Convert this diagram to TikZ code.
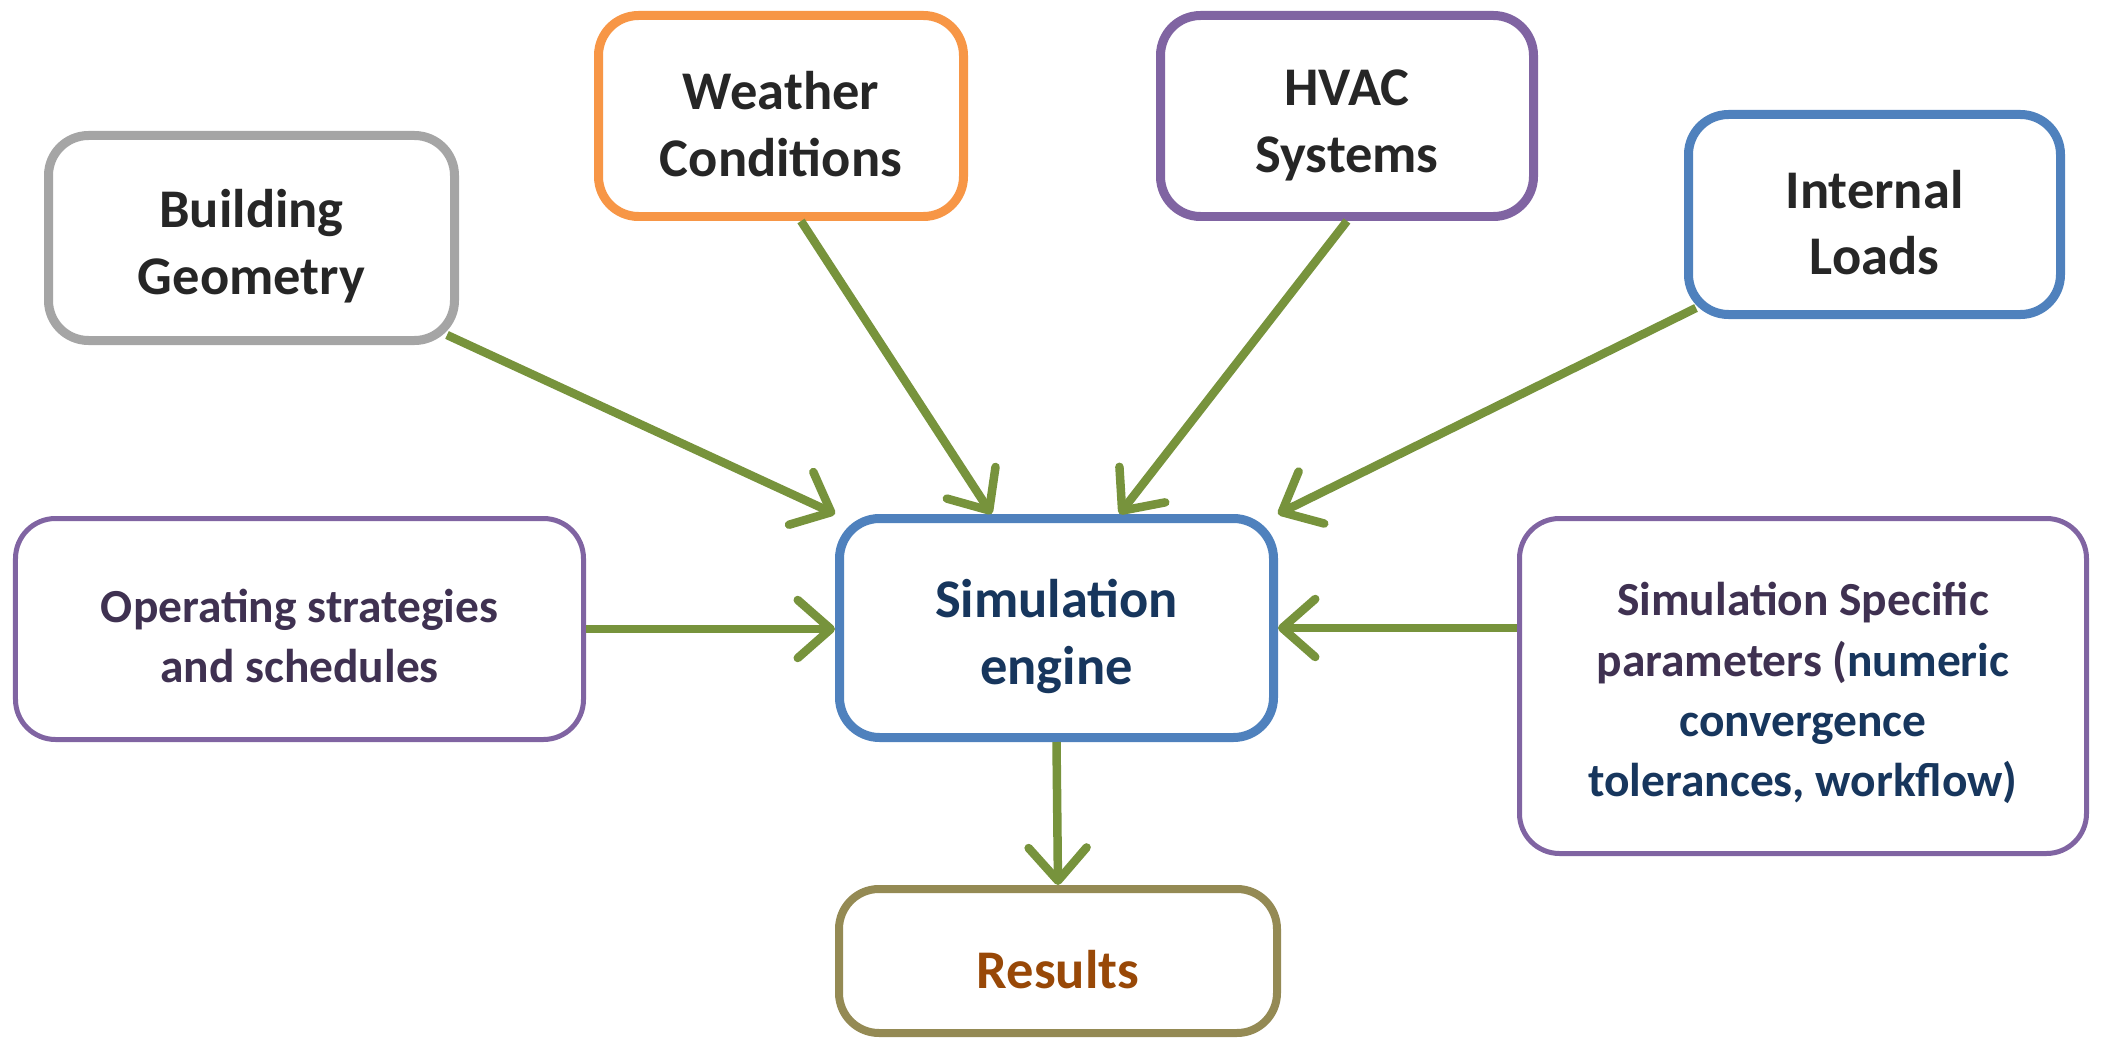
\documentclass[tikz,border=0pt]{standalone}
\usepackage{fontspec}
\setmainfont{Carlito}
\usetikzlibrary{arrows.meta}

\definecolor{boxgray}{HTML}{A5A5A5}
\definecolor{boxorange}{HTML}{F79646}
\definecolor{boxpurple}{HTML}{8064A2}
\definecolor{boxblue}{HTML}{4F81BD}
\definecolor{boxolive}{HTML}{948A54}
\definecolor{arrowgreen}{HTML}{77933C}
\definecolor{txtdark}{HTML}{262626}
\definecolor{txtpurple}{HTML}{3F3151}
\definecolor{txtblue}{HTML}{17365D}
\definecolor{txtbrown}{HTML}{984807}

% taller first line, pushes the text a little lower in its box
\newcommand{\toprule}{\rule{0pt}{1.0em}}

\begin{document}
\begin{tikzpicture}[
  box/.style={rectangle, draw, rounded corners=0.4cm, line width=0.09cm, fill=white,
              align=center, inner sep=0pt, text=txtdark,
              font=\bfseries\fontsize{15.5}{19}\selectfont},
  thinbox/.style={box, line width=0.05cm, font=\bfseries\fontsize{13.5}{17.1}\selectfont},
  feed/.style={-{Straight Barb[length=3.3mm, width=5.8mm, line cap=round, line join=round]},
               line width=0.085cm, arrowgreen},
  scale=1.0
]
  \useasboundingbox (0,0) rectangle (21.03,10.41);

  % Inputs, top row
  \node[box, draw=boxgray, minimum width=4.06cm, minimum height=2.05cm]
    (geom) at (2.515,8.03) {\toprule Building\\Geometry};
  \node[box, draw=boxorange, minimum width=3.65cm, minimum height=2.01cm]
    (weather) at (7.81,9.25) {\toprule Weather\\Conditions};
  \node[box, draw=boxpurple, minimum width=3.73cm, minimum height=2.01cm]
    (hvac) at (13.47,9.25) {\toprule HVAC\\Systems};
  \node[box, draw=boxblue, minimum width=3.72cm, minimum height=2.0cm]
    (loads) at (18.745,8.265) {\toprule Internal\\Loads};

  % Middle row
  \node[thinbox, draw=boxpurple, text=txtpurple, minimum width=5.68cm, minimum height=2.21cm]
    (ops) at (2.995,4.12) {\toprule Operating strategies\\and schedules};
  \node[box, draw=boxblue, text=txtblue, minimum width=4.34cm, minimum height=2.19cm]
    (engine) at (10.565,4.13) {\toprule Simulation\\engine};
  \node[thinbox, draw=boxpurple, text=txtpurple, minimum width=5.67cm, minimum height=3.35cm]
    (params) at (18.03,3.55) {\toprule Simulation Specific\\parameters (\textcolor{txtblue}{numeric}\\
    \textcolor{txtblue}{convergence}\\\textcolor{txtblue}{tolerances, workflow)}};

  % Output
  \node[box, draw=boxolive, line width=0.08cm, text=txtbrown, minimum width=4.38cm, minimum height=1.44cm]
    (results) at (10.58,0.80) {\toprule Results};

  % Arrows into the engine
  \draw[feed] ([shift={(-0.12,0.1)}]geom.south east) -- (engine.north west);
  \draw[feed] ([xshift=0.2cm]weather.south) -- ([xshift=-0.65cm]engine.north);
  \draw[feed] (hvac.south) -- ([xshift=0.63cm]engine.north);
  \draw[feed] ([shift={(0.12,0.11)}]loads.south west) -- (engine.north east);
  \draw[feed] (ops.east) -- (ops.east -| engine.west);
  \draw[feed] (engine.east -| params.west) -- (engine.east);

  % Engine to results
  \draw[feed] (engine.south) -- (results.north);

\end{tikzpicture}
\end{document}
